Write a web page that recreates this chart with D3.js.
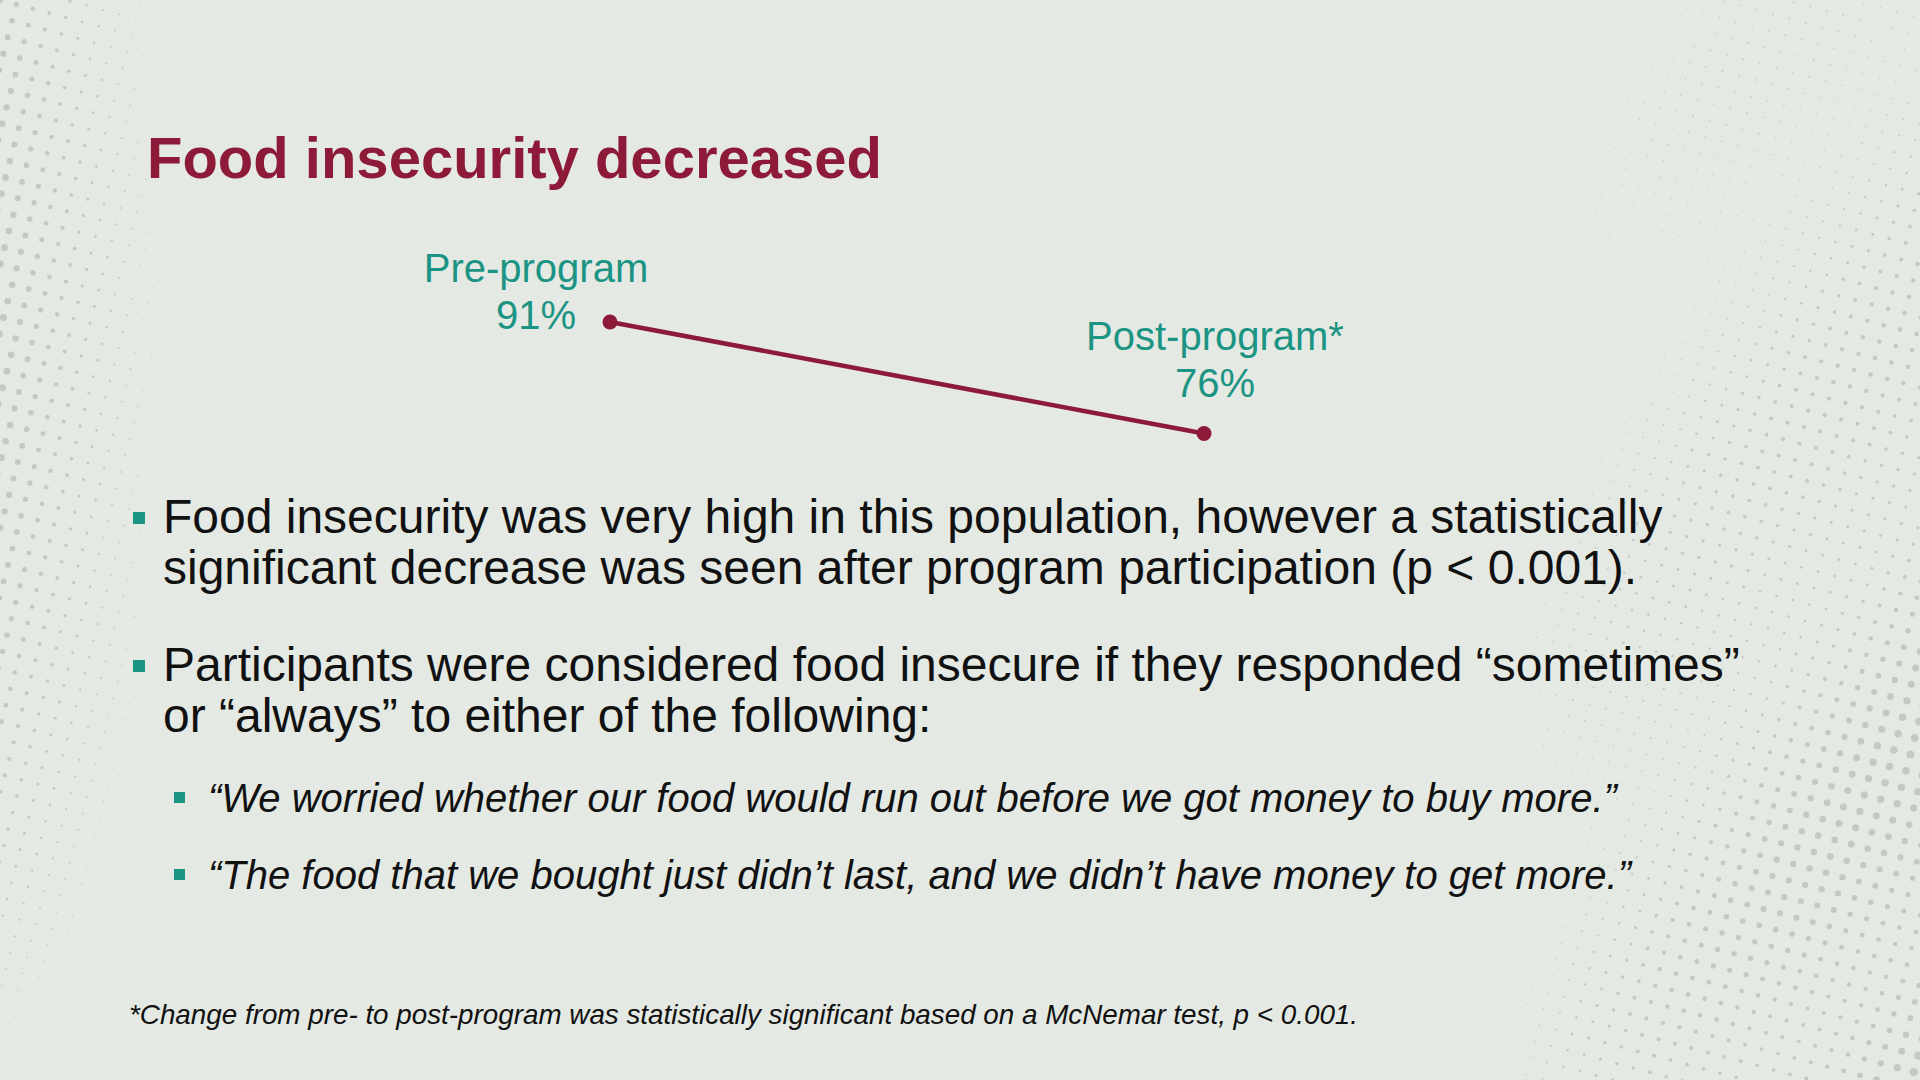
<!DOCTYPE html>
<html>
<head>
<meta charset="utf-8">
<script src="https://cdn.jsdelivr.net/npm/d3@7"></script>
<style>
  html, body { margin: 0; padding: 0; background: #E4E9E3; }
  svg { display: block; }
</style>
</head>
<body>
<script>
// ---- data ----
const categories = ["Pre-program", "Post-program*"];
const values = [91, 76];
const valueLabels = ["91%", "76%"];
const titleText = "Food insecurity decreased";
const bullets = [
  ["Food insecurity was very high in this population, however a statistically",
   "significant decrease was seen after program participation (p < 0.001)."],
  ["Participants were considered food insecure if they responded \u201Csometimes\u201D",
   "or \u201Calways\u201D to either of the following:"]
];
const subBullets = [
  "\u201CWe worried whether our food would run out before we got money to buy more.\u201D",
  "\u201CThe food that we bought just didn\u2019t last, and we didn\u2019t have money to get more.\u201D"
];
const footnote = "*Change from pre- to post-program was statistically significant based on a McNemar test, p < 0.001.";

// ---- layout ----
const W = 1920, H = 1080;
const FONT = "'Liberation Sans', Arial, sans-serif";
const RED = "#8C1A38", TEAL = "#1C9484", INK = "#111111";

const svg = d3.select("body").append("svg").attr("width", W).attr("height", H);
svg.append("rect").attr("width", W).attr("height", H).attr("fill", "#E4E9E3");

// decorative halftone background
const deco = svg.append("g").attr("fill", "#C4C9C3");
const sp = 17, ang = 0.26;
const pts = [];
for (let i = -20; i < 160; i++) {
  for (let j = -60; j < 120; j++) {
    const gx = i * sp, gy = j * sp;
    const x = gx * Math.cos(ang) - gy * Math.sin(ang);
    const y = gx * Math.sin(ang) + gy * Math.cos(ang);
    if (x < -5 || x > W + 5 || y < -5 || y > H + 5) continue;
    let r = 0;
    if (x < 260) {
      const t = 1 - x / 260;
      const v = Math.max(0, 0.3 + 0.7 * Math.cos((y - 300) / 420));
      r = Math.max(r, 3.6 * t * t * v);
    }
    if (x > 1450) {
      const t = Math.min(1, (x - 1450) / 470);
      const v = 0.25 + 0.75 * (y / H);
      const wave = 0.75 + 0.25 * Math.cos((x + y) / 70);
      r = Math.max(r, 5.2 * t * v * wave);
    }
    if (r > 0.6) pts.push([x, y, r]);
  }
}
deco.selectAll("circle").data(pts).join("circle")
  .attr("cx", d => d[0]).attr("cy", d => d[1]).attr("r", d => d[2]);

// title
svg.append("text").attr("x", 147).attr("y", 178)
  .attr("font-family", FONT).attr("font-weight", "bold").attr("font-size", 58)
  .attr("fill", RED).text(titleText);

// chart
const x = d3.scalePoint().domain(categories).range([610, 1204]);
const y = d3.scaleLinear().domain([76, 91]).range([433.5, 322]);
const series = categories.map((c, i) => ({ c, v: values[i], lab: valueLabels[i] }));

const line = d3.line().x(d => x(d.c)).y(d => y(d.v));
svg.append("path").datum(series).attr("d", line)
  .attr("fill", "none").attr("stroke", RED).attr("stroke-width", 4.5);
svg.selectAll(".pt").data(series).join("circle").attr("class", "pt")
  .attr("cx", d => x(d.c)).attr("cy", d => y(d.v)).attr("r", 7.5).attr("fill", RED);

const labelDx = [-74, 11];
const labelDy = [7, -37];
const lab = svg.selectAll(".lab").data(series).join("text").attr("class", "lab")
  .attr("font-family", FONT).attr("font-size", 40).attr("fill", TEAL)
  .attr("text-anchor", "middle");
lab.append("tspan")
  .attr("x", (d, i) => x(d.c) + labelDx[i]).attr("y", (d, i) => y(d.v) + labelDy[i] - 47)
  .text(d => d.c);
lab.append("tspan")
  .attr("x", (d, i) => x(d.c) + labelDx[i]).attr("y", (d, i) => y(d.v) + labelDy[i])
  .text(d => d.lab);

// bullets
const bulletTop = [533, 681];
const lineGap = 51;
bullets.forEach((lines, bi) => {
  svg.append("rect").attr("x", 133).attr("y", bulletTop[bi] - 21).attr("width", 12).attr("height", 12)
    .attr("fill", TEAL);
  const t = svg.append("text").attr("font-family", FONT).attr("font-size", 48).attr("fill", INK);
  lines.forEach((ln, li) => {
    t.append("tspan").attr("x", 163).attr("y", bulletTop[bi] + li * lineGap).text(ln);
  });
});

const subTop = [812, 889];
subBullets.forEach((s, si) => {
  svg.append("rect").attr("x", 174).attr("y", subTop[si] - 20).attr("width", 11).attr("height", 11)
    .attr("fill", TEAL);
  svg.append("text").attr("x", 208).attr("y", subTop[si])
    .attr("font-family", FONT).attr("font-style", "italic").attr("font-size", 40).attr("fill", INK)
    .text(s);
});

svg.append("text").attr("x", 129).attr("y", 1024)
  .attr("font-family", FONT).attr("font-style", "italic").attr("font-size", 27.8).attr("fill", INK)
  .text(footnote);
</script>
</body>
</html>
